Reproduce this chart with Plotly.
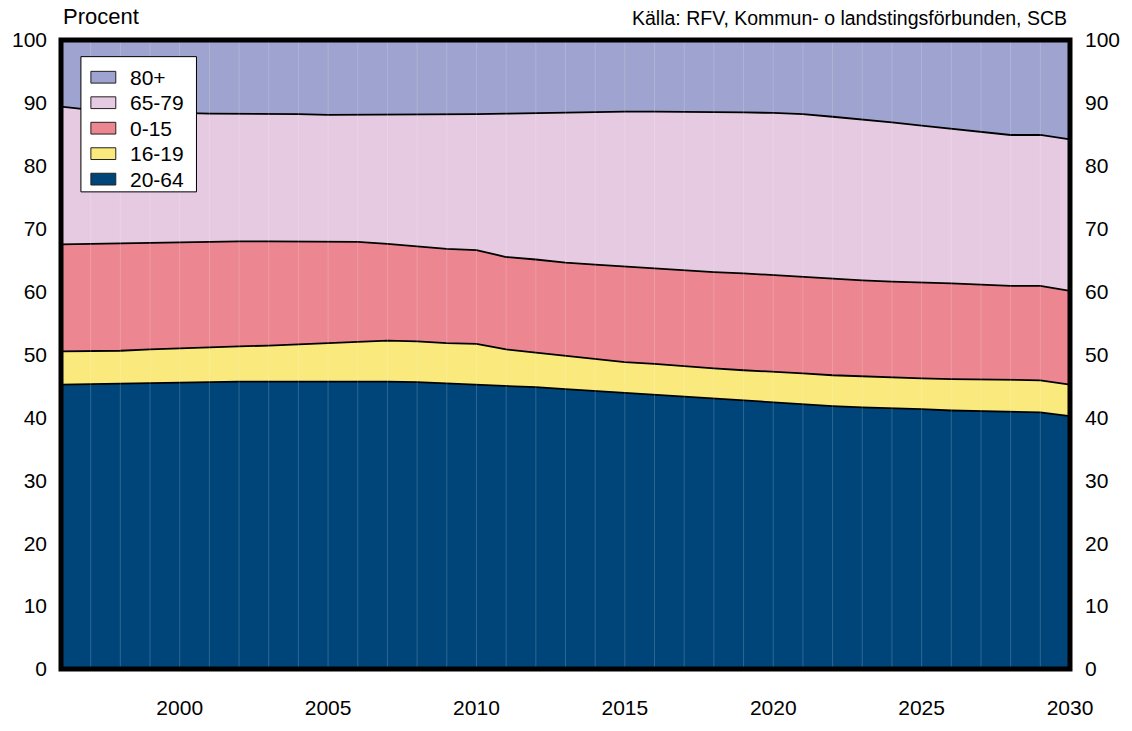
import plotly.graph_objects as go

years = list(range(1996, 2031))

# Shares of population (percent) by age group
age_20_64 = [45.2, 45.3, 45.4, 45.5, 45.6, 45.7, 45.7, 45.7, 45.7, 45.7, 45.8, 45.7, 45.6, 45.4, 45.3,
             45.0, 44.8, 44.5, 44.2, 43.9, 43.6, 43.3, 43.0, 42.6, 42.3, 42.0, 41.8, 41.6, 41.5, 41.3,
             41.1, 41.0, 40.9, 40.8, 40.2]
age_16_19 = [5.3, 5.2, 5.2, 5.3, 5.4, 5.4, 5.6, 5.7, 5.9, 6.1, 6.3, 6.5, 6.5, 6.4, 6.4,
             5.8, 5.5, 5.3, 5.1, 4.9, 4.9, 4.8, 4.8, 4.9, 5.0, 5.0, 4.9, 4.9, 4.9, 4.9,
             5.0, 5.0, 5.0, 5.1, 5.0]
age_0_15 = [17.0, 17.1, 17.1, 17.0, 16.9, 16.8, 16.7, 16.6, 16.4, 16.1, 15.8, 15.4, 15.1, 15.0, 14.9,
            14.7, 14.8, 14.8, 15.0, 15.2, 15.2, 15.2, 15.3, 15.4, 15.3, 15.3, 15.3, 15.3, 15.2, 15.3,
            15.2, 15.1, 15.0, 15.0, 14.9]
age_65_79 = [21.9, 21.3, 21.0, 20.7, 20.5, 20.4, 20.3, 20.2, 20.2, 20.2, 20.2, 20.5, 20.9, 21.4, 21.6,
             22.8, 23.3, 23.9, 24.3, 24.6, 24.9, 25.3, 25.5, 25.6, 25.8, 25.9, 25.8, 25.6, 25.3, 24.9,
             24.6, 24.3, 24.0, 24.0, 24.1]
age_80p = [10.6, 11.1, 11.3, 11.5, 11.6, 11.7, 11.7, 11.8, 11.8, 11.9, 11.9, 11.9, 11.9, 11.8, 11.8,
           11.7, 11.6, 11.5, 11.4, 11.4, 11.4, 11.4, 11.4, 11.5, 11.6, 11.8, 12.2, 12.6, 13.1, 13.6,
           14.1, 14.6, 15.1, 15.1, 15.8]

series = [
    ("20-64", age_20_64, "#00457A"),
    ("16-19", age_16_19, "#FAE97C"),
    ("0-15", age_0_15, "#EC8691"),
    ("65-79", age_65_79, "#E6CAE2"),
    ("80+", age_80p, "#9EA3CF"),
]

x_ticks = [2000, 2005, 2010, 2015, 2020, 2025, 2030]
y_ticks = list(range(0, 101, 10))

FONT = "Liberation Sans, Arial, sans-serif"
W, H = 1132, 731
ML, MR, MT, MB = 58, 61, 40, 49
PW, PH = W - ML - MR, H - MT - MB


def px_x(px):
    return (px - ML) / PW


def px_y(py):
    return 1 - (py - MT) / PH


fig = go.Figure()
for name, vals, color in series:
    fig.add_trace(go.Scatter(
        x=years, y=vals, name=name, stackgroup="one", mode="lines",
        line=dict(color="black", width=1.8), fillcolor=color,
        hoverinfo="x+y+name", showlegend=False,
    ))

# invisible helper so the right-hand axis is drawn
fig.add_trace(go.Scatter(x=[years[0]], y=[0], yaxis="y2", mode="lines",
                         line=dict(width=0), showlegend=False, hoverinfo="skip"))

shapes = []
for yr in years[1:-1]:
    shapes.append(dict(type="line", xref="x", yref="paper", x0=yr, x1=yr, y0=0, y1=1,
                       line=dict(color="rgba(255,255,255,0.18)", width=1), layer="above"))

# hand-drawn legend (box + swatches + labels)
annotations = []
shapes.append(dict(type="rect", xref="paper", yref="paper",
                   x0=px_x(78), x1=px_x(194), y0=px_y(195), y1=px_y(57),
                   fillcolor="white", line=dict(color="black", width=1), layer="above"))
row0, step = 78, 26
for i, (name, vals, color) in enumerate(reversed(series)):
    cy = row0 + i * step
    shapes.append(dict(type="rect", xref="paper", yref="paper",
                       x0=px_x(88), x1=px_x(113), y0=px_y(cy + 6), y1=px_y(cy - 6),
                       fillcolor=color, line=dict(color="#222222", width=1), layer="above"))
    annotations.append(dict(text=name, xref="paper", yref="paper", x=px_x(125), y=px_y(cy),
                            xanchor="left", yanchor="middle", showarrow=False,
                            font=dict(family=FONT, size=21, color="black")))

shapes.append(dict(type="rect", xref="paper", yref="paper", x0=0, x1=1, y0=0, y1=1,
                   line=dict(color="black", width=5), layer="above"))

annotations += [
    dict(text="Procent", xref="paper", yref="paper", x=px_x(58), y=px_y(31),
         xanchor="left", yanchor="bottom", showarrow=False,
         font=dict(family=FONT, size=22)),
    dict(text="Källa: RFV, Kommun- o landstingsförbunden, SCB", xref="paper", yref="paper",
         x=px_x(1070), y=px_y(31), xanchor="right", yanchor="bottom", showarrow=False,
         font=dict(family=FONT, size=19.5)),
]

fig.update_layout(
    width=W, height=H,
    margin=dict(l=ML, r=MR, t=MT, b=MB),
    paper_bgcolor="white", plot_bgcolor="white",
    font=dict(family=FONT, size=21, color="black"),
    showlegend=False,
    xaxis=dict(range=[1996, 2030], tickvals=x_ticks, showgrid=False, zeroline=False,
               showline=False, ticks="", ticklabelstandoff=24,
               tickfont=dict(family=FONT, size=21)),
    yaxis=dict(range=[0, 100], tickvals=y_ticks, showgrid=False, zeroline=False,
               showline=False, ticks="", ticklabelstandoff=13,
               tickfont=dict(family=FONT, size=21)),
    yaxis2=dict(range=[0, 100], tickvals=y_ticks, overlaying="y", side="right",
                showgrid=False, zeroline=False, showline=False, ticks="",
                ticklabelstandoff=14, tickfont=dict(family=FONT, size=21)),
    shapes=shapes,
    annotations=annotations,
)

fig.write_html("out.html", config={"displayModeBar": False},
               post_script="document.body.style.margin='0';")
